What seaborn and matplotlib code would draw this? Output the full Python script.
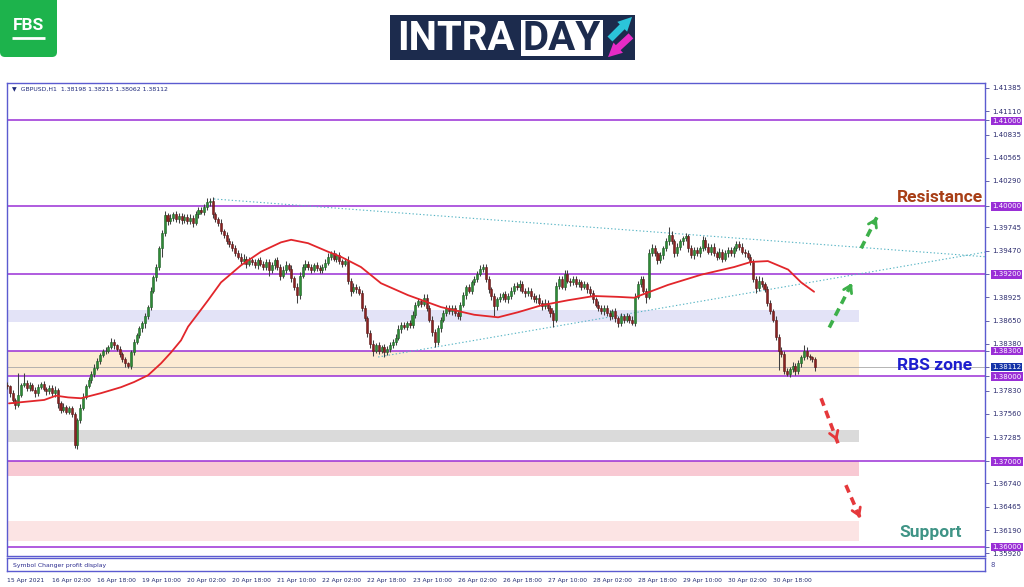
import numpy as np
import pandas as pd
import matplotlib
matplotlib.use("Agg")
import matplotlib.pyplot as plt
from matplotlib.patches import FancyBboxPatch, Rectangle
import seaborn as sns

# ---------------- data (prices in pips: 13790 -> 1.3790) ----------------
first_open = 13790
closes = [
    13788, 13780, 13772, 13766, 13778, 13789, 13792, 13786, 13790, 13784, 13780, 13787, 13791, 13785, 13782, 13786,
    13780, 13784, 13768, 13760, 13764, 13758, 13762, 13756, 13719, 13748, 13762, 13776, 13788, 13795, 13803, 13810,
    13818, 13825, 13829, 13830, 13834, 13840, 13836, 13832, 13826, 13820, 13815, 13812, 13828, 13840, 13848, 13856,
    13862, 13870, 13881, 13900, 13916, 13928, 13950, 13968, 13989, 13982, 13986, 13990, 13984, 13988, 13983, 13987,
    13982, 13986, 13980, 13990, 13995, 13993, 13998, 14004, 14006, 13990, 13984, 13980, 13970, 13966, 13958, 13955,
    13950, 13945, 13940, 13935, 13938, 13932, 13936, 13934, 13930, 13936, 13932, 13928, 13934, 13924, 13930, 13936,
    13928, 13918, 13925, 13930, 13926, 13915, 13905, 13895, 13918, 13928, 13932, 13928, 13925, 13930, 13927, 13924,
    13928, 13933, 13940, 13944, 13938, 13942, 13935, 13932, 13935, 13912, 13900, 13905, 13902, 13898, 13880, 13868,
    13850, 13838, 13830, 13836, 13830, 13834, 13828, 13832, 13836, 13840, 13845, 13855, 13860, 13858, 13862, 13860,
    13872, 13884, 13888, 13885, 13892, 13880, 13866, 13852, 13840, 13856, 13866, 13874, 13880, 13876, 13880, 13874,
    13870, 13884, 13895, 13904, 13900, 13910, 13914, 13920, 13926, 13928, 13914, 13902, 13894, 13882, 13890, 13893,
    13896, 13890, 13894, 13900, 13906, 13904, 13908, 13900, 13897, 13900, 13894, 13890, 13892, 13886, 13882, 13886,
    13880, 13874, 13866, 13906, 13914, 13905, 13920, 13912, 13910, 13914, 13908, 13910, 13905, 13908, 13902, 13897,
    13890, 13884, 13880, 13876, 13880, 13874, 13870, 13876, 13868, 13862, 13870, 13866, 13870, 13866, 13862, 13893,
    13908, 13914, 13900, 13893, 13945, 13950, 13944, 13936, 13942, 13950, 13958, 13966, 13958, 13944, 13952, 13958,
    13962, 13964, 13950, 13942, 13948, 13944, 13950, 13960, 13952, 13946, 13952, 13944, 13940, 13946, 13938, 13944,
    13948, 13944, 13950, 13955, 13952, 13946, 13944, 13940, 13934, 13914, 13903, 13912, 13908, 13902, 13886, 13876,
    13866, 13846, 13830, 13826, 13806, 13803, 13808, 13812, 13806, 13815, 13822, 13830, 13824, 13822, 13820, 13811,
]
up_wick = [
    3, 2, 4, 2, 26, 3, 12, 4, 3, 2, 3, 4, 2, 3, 2, 3,
    3, 4, 2, 3, 4, 2, 3, 3, 2, 3, 5, 4, 3, 4, 3, 4,
    3, 2, 3, 4, 3, 5, 3, 2, 3, 2, 3, 2, 3, 4, 3, 3,
    3, 4, 3, 4, 3, 4, 3, 4, 5, 3, 4, 3, 4, 3, 4, 3,
    3, 4, 3, 4, 3, 4, 4, 5, 3, 4, 3, 3, 4, 3, 3, 4,
    3, 4, 3, 4, 5, 3, 4, 3, 4, 3, 4, 3, 4, 3, 4, 3,
    4, 3, 4, 5, 3, 4, 3, 4, 4, 3, 4, 3, 4, 3, 4, 3,
    3, 4, 5, 3, 4, 3, 4, 3, 4, 6, 3, 4, 3, 4, 3, 4,
    3, 4, 4, 3, 4, 3, 4, 3, 4, 3, 4, 5, 3, 4, 3, 4,
    4, 3, 4, 3, 4, 4, 3, 4, 3, 4, 3, 4, 3, 4, 3, 4,
    4, 3, 4, 3, 4, 3, 4, 3, 4, 4, 3, 4, 3, 4, 3, 4,
    3, 4, 3, 4, 3, 4, 5, 4, 3, 4, 3, 4, 3, 4, 3, 4,
    3, 4, 3, 4, 4, 3, 5, 4, 3, 4, 3, 4, 3, 4, 3, 4,
    4, 3, 4, 3, 4, 3, 4, 3, 4, 3, 4, 3, 4, 3, 4, 4,
    4, 3, 4, 3, 4, 5, 4, 3, 4, 3, 4, 9, 4, 3, 4, 3,
    3, 4, 3, 4, 3, 4, 3, 4, 3, 4, 3, 4, 3, 4, 3, 4,
    3, 4, 3, 4, 3, 4, 3, 4, 3, 3, 4, 6, 4, 3, 4, 3,
    3, 4, 3, 4, 3, 4, 3, 4, 3, 4, 3, 6, 4, 2, 2, 2,
]
lo_wick = [
    3, 4, 3, 5, 2, 3, 2, 4, 3, 2, 4, 3, 2, 3, 4, 3,
    3, 4, 6, 3, 2, 3, 2, 4, 3, 4, 3, 2, 3, 2, 3, 4,
    3, 4, 2, 3, 3, 2, 4, 3, 4, 3, 4, 3, 4, 3, 2, 3,
    4, 6, 3, 4, 3, 4, 3, 10, 4, 5, 3, 4, 3, 4, 5, 3,
    4, 3, 5, 3, 4, 3, 4, 3, 4, 5, 3, 4, 3, 4, 3, 3,
    3, 4, 3, 4, 3, 5, 3, 4, 3, 4, 3, 4, 3, 6, 3, 4,
    4, 5, 3, 4, 3, 4, 4, 9, 4, 3, 4, 3, 4, 3, 4, 3,
    3, 4, 3, 4, 3, 4, 3, 4, 3, 4, 6, 3, 4, 3, 4, 3,
    4, 5, 6, 3, 4, 3, 6, 3, 4, 3, 4, 3, 4, 3, 4, 3,
    3, 4, 3, 4, 3, 4, 3, 5, 6, 3, 4, 3, 4, 3, 4, 3,
    3, 4, 3, 4, 3, 4, 3, 4, 3, 4, 3, 4, 5, 12, 4, 3,
    4, 3, 4, 3, 4, 3, 4, 3, 4, 3, 4, 3, 4, 3, 4, 3,
    4, 5, 8, 3, 4, 3, 4, 3, 4, 3, 4, 3, 4, 3, 4, 3,
    4, 3, 4, 3, 4, 3, 4, 3, 4, 4, 3, 4, 3, 4, 2, 3,
    3, 4, 3, 7, 3, 4, 3, 4, 3, 4, 3, 4, 3, 4, 3, 4,
    4, 3, 4, 3, 4, 3, 4, 3, 4, 3, 4, 3, 4, 3, 4, 3,
    4, 3, 4, 3, 4, 3, 4, 3, 4, 4, 5, 3, 4, 3, 4, 3,
    3, 4, 23, 4, 3, 3, 4, 3, 5, 3, 4, 3, 4, 3, 4, 5,
]

# red moving-average line, read at sample bars
ma_idx = [0.7, 13.2, 17.4, 21.7, 26.3, 33.4, 40.5, 45.1, 50.1, 54.7, 58.3, 61.8, 64.3, 68.9,
          71.4, 76.0, 78.5, 83.1, 90.2, 97.3, 100.9, 106.9, 114.0, 118.6, 125.7, 132.8,
          142.4, 154.1, 165.9, 174.4, 181.5, 189.7, 199.2, 208.5, 217.0, 222.7, 234.7,
          246.5, 258.2, 264.2, 270.2, 277.4, 282.0, 286.6]
ma_val = [13768, 13772, 13777, 13775, 13774, 13780, 13787, 13793, 13801, 13815, 13828, 13842,
          13858, 13878, 13889, 13910, 13917, 13930, 13946, 13957, 13960, 13956, 13946, 13940,
          13928, 13909, 13895, 13881, 13872, 13869, 13875, 13883, 13889, 13894, 13893, 13892,
          13907, 13919, 13928, 13934, 13935, 13925, 13910, 13899]

date_labels = ["15 Apr 2021", "16 Apr 02:00", "16 Apr 18:00", "19 Apr 10:00", "20 Apr 02:00",
               "20 Apr 18:00", "21 Apr 10:00", "22 Apr 02:00", "22 Apr 18:00", "23 Apr 10:00",
               "26 Apr 02:00", "26 Apr 18:00", "27 Apr 10:00", "28 Apr 02:00", "28 Apr 18:00",
               "29 Apr 10:00", "30 Apr 02:00", "30 Apr 18:00"]
bars_per_label = 16

scale_ticks = [1.41385, 1.41110, 1.40835, 1.40565, 1.40290, 1.39745, 1.39470, 1.38925,
               1.38650, 1.38380, 1.37830, 1.37560, 1.37285, 1.36740, 1.36465, 1.36190, 1.35920]
level_prices = [1.41000, 1.40000, 1.39200, 1.38300, 1.38000, 1.37000, 1.36000]
last_price = 1.38112
header_text = "\u25BC  GBPUSD,H1  1.38198 1.38215 1.38062 1.38112"

zone_low = [1.38640, 1.38000, 1.37230, 1.36830, 1.36070]
zone_high = [1.38780, 1.38300, 1.37370, 1.37000, 1.36300]
zone_end_bar = 302.6

trend_upper = ([73.5, 347.7], [1.40079, 1.39400])
trend_lower = ([131.8, 347.7], [1.38224, 1.39457])

arrows_up = [((292.0, 1.38570), (300.5, 1.39120)), ((303.3, 1.39500), (309.3, 1.39890))]
arrows_down = [((289.1, 1.37740), (295.1, 1.37210)), ((297.9, 1.36720), (303.3, 1.36310))]

# ---------------- build OHLC table ----------------
c = np.array(closes) / 10000.0
o = np.array([first_open] + closes[:-1]) / 10000.0
h = np.maximum(o, c) + np.array(up_wick) / 10000.0
l = np.minimum(o, c) - np.array(lo_wick) / 10000.0
df = pd.DataFrame({"bar": np.arange(len(c)), "open": o, "high": h, "low": l, "close": c})
ma_df = pd.DataFrame({"bar": ma_idx, "ma": np.array(ma_val) / 10000.0})

# ---------------- figure ----------------
sns.set_style("white")
plt.rcParams["font.family"] = ["DejaVu Sans"]
W, H = 1024, 587
fig = plt.figure(figsize=(W / 100, H / 100), dpi=100)
fig.patch.set_facecolor("white")

frame_col = "#5B5BD0"
x_left, x_right, y_top, y_bot = 7, 985, 83, 556
ax = fig.add_axes([x_left / W, 1 - y_bot / H, (x_right - x_left) / W, (y_bot - y_top) / H])
ax.set_facecolor("white")
ax.set_xlim(0, 347.3)
ax.set_ylim(1.358885, 1.414401)

# zones
for lo_, hi_, col in zip(zone_low, zone_high, ["#E3E3F7", "#FCEBD3", "#DADADA", "#F8C9D3", "#FCE4E4"]):
    ax.fill_between([0, zone_end_bar], lo_, hi_, color=col, lw=0, zorder=1)

# horizontal levels
for lv in level_prices:
    ax.axhline(lv, color="#9A2FD6", lw=1.1, zorder=2)
ax.axhline(last_price, color="#A8A8A8", lw=0.6, zorder=2)

# trend lines
for tx, ty in (trend_upper, trend_lower):
    ax.plot(tx, ty, color="#56B4C4", lw=0.8, ls=(0, (1.2, 2.0)), zorder=3)

# candles
bull = df["close"] >= df["open"]
ax.vlines(df["bar"], df["low"], df["high"], color="#404040", lw=0.75, zorder=4)
body_bottom = np.minimum(df["open"], df["close"])
body_h = np.maximum(np.abs(df["close"] - df["open"]), 0.00002)
ax.bar(df["bar"][bull], body_h[bull], bottom=body_bottom[bull], width=0.72,
       color="#2E8B36", edgecolor="#1F5F25", lw=0.4, zorder=5)
ax.bar(df["bar"][~bull], body_h[~bull], bottom=body_bottom[~bull], width=0.72,
       color="#8C2222", edgecolor="#5A1A1A", lw=0.4, zorder=5)

# moving average
sns.lineplot(data=ma_df, x="bar", y="ma", ax=ax, color="#E2262B", lw=1.3, sort=False,
             legend=False, zorder=6)

# dashed arrows
def dashed_arrow(p0, p1, col):
    ax.plot([p0[0], p1[0]], [p0[1], p1[1]], color=col, lw=2.6, ls=(0, (2.2, 1.5)),
            solid_capstyle="butt", zorder=7)
    back = (p1[0] - 0.18 * (p1[0] - p0[0]), p1[1] - 0.18 * (p1[1] - p0[1]))
    ax.annotate("", xy=p1, xytext=back,
                arrowprops=dict(arrowstyle="->,head_length=0.5,head_width=0.32", color=col, lw=2.0),
                zorder=7)

for p0, p1 in arrows_up:
    dashed_arrow(p0, p1, "#3DB04A")
for p0, p1 in arrows_down:
    dashed_arrow(p0, p1, "#E5383B")

# labels on chart
ax.text(346.6, 1.40102, "Resistance", ha="right", va="center", fontsize=12.5,
        fontweight="bold", family=["Roboto", "DejaVu Sans"], color="#A83E16", zorder=8)
ax.text(342.7, 1.38119, "RBS zone", ha="right", va="center", fontsize=12.5,
        fontweight="bold", family=["Roboto", "DejaVu Sans"], color="#1E1ECF", zorder=8)
ax.text(339.1, 1.36159, "Support", ha="right", va="center", fontsize=12.5,
        fontweight="bold", family=["Roboto", "DejaVu Sans"], color="#3F9486", zorder=8)

# frame
for s in ax.spines.values():
    s.set_color(frame_col)
    s.set_linewidth(1.0)
ax.set_xticks([])

# right price scale
all_ticks = scale_ticks + level_prices + [last_price]
ax.yaxis.tick_right()
ax.set_yticks(all_ticks)
ax.set_yticklabels([f"{t:.5f}" for t in all_ticks])
ax.tick_params(axis="y", which="both", right=True, left=False, labelright=True, labelleft=False,
               labelsize=5, pad=2.0, length=3, width=0.6, color="#4A4A9A", labelcolor="#2B2B6E")
for t, lab in zip(all_ticks, ax.get_yticklabels()):
    if t in level_prices:
        lab.set_color("white")
        lab.set_bbox(dict(facecolor="#9A2FD6", edgecolor="none", pad=1.0))
    elif t == last_price:
        lab.set_color("white")
        lab.set_bbox(dict(facecolor="#1533A8", edgecolor="none", pad=1.0))
ax.set_ylabel("")
ax.set_xlabel("")

# header text
fig.text(12 / W, 1 - 89 / H, header_text, fontsize=4.4, color="#1F2A7A", va="center", ha="left")

# sub panel
ax2 = fig.add_axes([x_left / W, 1 - 571 / H, (x_right - x_left) / W, 13 / H])
ax2.set_xlim(0, 347.3)
ax2.set_ylim(0, 1)
for s in ax2.spines.values():
    s.set_color(frame_col)
    s.set_linewidth(1.0)
ax2.set_yticks([])
ax2.text(0.006, 0.45, "Symbol Changer profit display", transform=ax2.transAxes, fontsize=4.4,
         color="#2B2B8E", va="center", ha="left")
ax2.text(1.006, 0.45, "8", transform=ax2.transAxes, fontsize=5, color="#4A4A9A", va="center",
         ha="left")
tick_pos = [k * bars_per_label for k in range(len(date_labels))]
ax2.set_xticks(tick_pos)
ax2.set_xticklabels(date_labels)
ax2.tick_params(axis="x", labelsize=4.3, length=3, width=0.6, color="#333355",
                labelcolor="#1F2A6E", pad=2.0)
for lab in ax2.get_xticklabels():
    lab.set_ha("left")

# logos (overlay in pixel coordinates)
ov = fig.add_axes([0, 0, 1, 1], facecolor="none")
ov.set_xlim(0, W)
ov.set_ylim(H, 0)
ov.axis("off")
ov.add_patch(FancyBboxPatch((0, -6), 57, 63, boxstyle="round,pad=0,rounding_size=5",
                            fc="#1DB34C", ec="none"))
ov.text(28.5, 25, "FBS", ha="center", va="center", fontsize=12.5, fontweight="bold",
        family=["Roboto", "DejaVu Sans"], color="white")
ov.plot([12, 45], [37.5, 37.5], color="white", lw=2.0, solid_capstyle="butt")

ov.add_patch(Rectangle((390, 15), 245, 45, fc="#1C2B4D", ec="none"))
ov.text(397, 38.5, "INTRA", ha="left", va="center", fontsize=29, fontweight="bold",
        family=["Roboto", "DejaVu Sans"], color="white")
ov.add_patch(Rectangle((521, 19.5), 82, 36.5, fc="white", ec="none"))
ov.text(562, 38.5, "DAY", ha="center", va="center", fontsize=29, fontweight="bold",
        family=["Roboto", "DejaVu Sans"], color="#1C2B4D")
ov.annotate("", xy=(634, 15), xytext=(608, 41),
            arrowprops=dict(arrowstyle="simple,head_length=1.0,head_width=1.0,tail_width=0.5",
                            color="#2BC4DA", lw=0))
ov.annotate("", xy=(606, 59), xytext=(633, 34),
            arrowprops=dict(arrowstyle="simple,head_length=1.0,head_width=1.0,tail_width=0.5",
                            color="#E62BC6", lw=0))

fig.savefig("out.png", dpi=100, facecolor="white")
